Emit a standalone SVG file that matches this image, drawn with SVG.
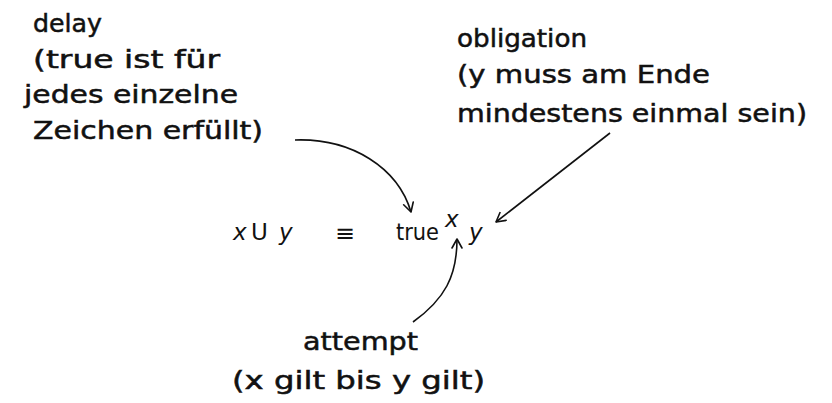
<svg xmlns="http://www.w3.org/2000/svg" width="832" height="403" viewBox="0 0 832 403">
<style>
.hand{font-family:"DejaVu Sans","Liberation Sans",sans-serif;font-size:24px;fill:#111;stroke:#111;stroke-width:0.5;}
.math{font-family:"DejaVu Sans","Liberation Sans",sans-serif;font-size:23px;fill:#111;}
.it{font-style:italic;}
.conn{fill:none;stroke:#111;stroke-width:1.6;marker-end:url(#arr);}
</style>
<defs>
<marker id="arr" markerUnits="userSpaceOnUse" markerWidth="14" markerHeight="14" refX="10" refY="6" orient="auto">
<path d="M1,1 L10,6 L1,11" fill="none" stroke="#111" stroke-width="1.6" stroke-linecap="round" stroke-linejoin="round"/>
</marker>
</defs>
<rect width="832" height="403" fill="#fff"/>
<g id="delay">
<text class="hand" x="33" y="32" textLength="69" lengthAdjust="spacingAndGlyphs">delay</text>
<text class="hand" x="33" y="68" textLength="187" lengthAdjust="spacingAndGlyphs">(true ist für</text>
<text class="hand" x="24" y="103" textLength="214" lengthAdjust="spacingAndGlyphs">jedes einzelne</text>
<text class="hand" x="33" y="139" textLength="230" lengthAdjust="spacingAndGlyphs">Zeichen erfüllt)</text>
</g>
<g id="obligation">
<text class="hand" x="457" y="47" textLength="130" lengthAdjust="spacingAndGlyphs">obligation</text>
<text class="hand" x="457" y="83" textLength="253" lengthAdjust="spacingAndGlyphs">(y muss am Ende</text>
<text class="hand" x="457" y="122" textLength="350" lengthAdjust="spacingAndGlyphs">mindestens einmal sein)</text>
</g>
<g id="formula">
<text class="math it" x="233" y="240">x</text>
<text class="math" x="251" y="240">U</text>
<text class="math it" x="279" y="240">y</text>
<text class="math" x="335" y="241" font-size="27" textLength="20" lengthAdjust="spacingAndGlyphs">≡</text>
<text class="math" x="396" y="240" textLength="43" lengthAdjust="spacingAndGlyphs">true</text>
<text class="math it" x="445" y="227">x</text>
<text class="math it" x="469" y="240">y</text>
</g>
<g id="attempt">
<text class="hand" x="303" y="350" textLength="115" lengthAdjust="spacingAndGlyphs">attempt</text>
<text class="hand" x="232" y="389" textLength="253" lengthAdjust="spacingAndGlyphs">(x gilt bis y gilt)</text>
</g>
<g id="connectors">
<path class="conn" d="M295,140 C352,138 398,168 411,212"/>
<path class="conn" d="M610,133 L496,222"/>
<path class="conn" d="M413,322 C445,299 457,276 457,239"/>
</g>
</svg>
